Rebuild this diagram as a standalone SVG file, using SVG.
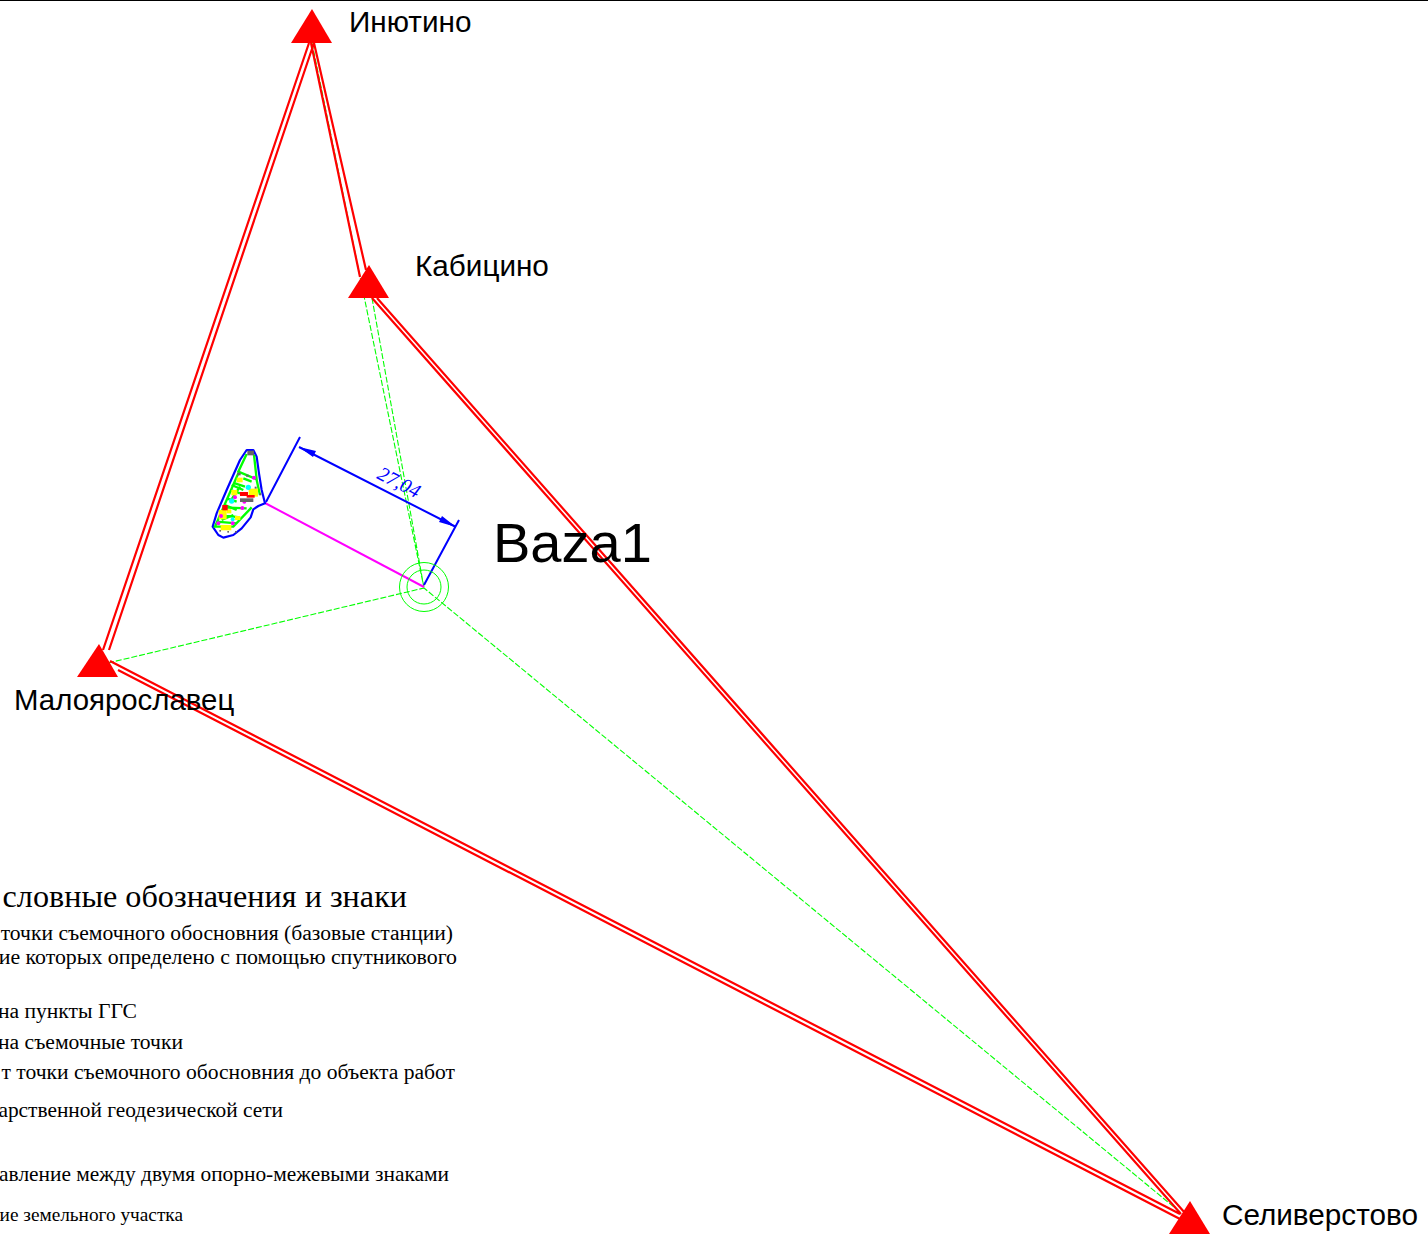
<svg xmlns="http://www.w3.org/2000/svg" width="1428" height="1236" viewBox="0 0 1428 1236">
<style>
.r{stroke:#f00;stroke-width:2.2;fill:none}
.g{stroke:#0f0;stroke-width:1.1;stroke-dasharray:6 2;fill:none}
.b{stroke:#00f;stroke-width:2;fill:none}
.tri{fill:#f00}
.s{font-family:"Liberation Sans",Arial,sans-serif;font-size:29.7px;fill:#000}
.l{font-family:"Liberation Serif","Times New Roman",serif;font-size:21.6px;fill:#000;text-anchor:end}
</style>
<rect width="1428" height="1236" fill="#fff"/>
<line x1="0" y1="0.5" x2="1428" y2="0.5" stroke="#000"/>
<g id="connectors">
<path class="g" d="M312 43L424 588M372 298L424 588M108 663L424 588M1180 1212L424 588"/>
<path class="r" d="M309 43L103 650M314 43L109 650M311 43L360 277M314 43L366 270M110 661L1180 1214M118 670L1180 1219M372 298L1181 1214M377 298L1185 1213"/>
<path stroke="#f0f" stroke-width="2" fill="none" d="M265 503L424 587"/>
<path class="b" d="M266 502L300 437M424 585L459 520M299 447L456 527"/>
<path fill="#00f" d="M299 447L316 451L313 457ZM456 527L439 522L442 516Z"/>
<g fill="none" stroke="#0f0"><circle cx="424" cy="587" r="24.5"/><circle cx="424" cy="587" r="17"/></g>
</g>
<g id="Inyutino"><path class="tri" d="M312 9L332 43H291Z"/><text class="s" x="349" y="32">Инютино</text></g>
<g id="Kabicino"><path class="tri" d="M369 265L389 298H348Z"/><text class="s" x="415" y="276">Кабицино</text></g>
<g id="Maloyaroslavets"><path class="tri" d="M99 644L118 677H77Z"/><text class="s" style="font-size:29.4px" x="14" y="710">Малоярославец</text></g>
<g id="Seliverstovo"><path class="tri" d="M1190 1201L1210 1234H1169Z"/><text class="s" x="1222" y="1225">Селиверстово</text></g>
<g id="Baza1"><text font-family="'Liberation Sans',Arial,sans-serif" font-size="56" x="493" y="562">Baza1</text></g>
<g id="dimension"><text font-family="'Liberation Serif','Times New Roman',serif" font-style="italic" font-size="20" fill="#00f" transform="translate(376 478) rotate(27)">27,04</text></g>
<g id="site" transform="translate(190 430) scale(.3333)">
<path fill="#fff" stroke="#00f" stroke-width="6.5" stroke-linejoin="round" d="M170 60L190 60L200 80L207 130L215 180L225 220L205 228L190 238L182 262L155 295L130 315L100 323L85 315L68 290L80 250L110 180L150 90Z"/>
<g fill="none" stroke="#0f0" stroke-width="7">
<path d="M170 72L145 125L200 148L192 75M145 130L75 290L130 290L185 232M160 145L185 155M150 170L120 215M135 160L165 170M122 180L150 190M110 205L140 215M100 232L170 235M88 255L150 262M80 275L140 280M200 150L210 195"/>
<path d="M125 165L160 180M105 225L140 240M95 270L130 255"/>
</g>
<g fill="#ff0"><rect x="140" y="143" width="18" height="14"/><rect x="124" y="180" width="18" height="16"/><rect x="176" y="176" width="28" height="24"/><rect x="86" y="240" width="24" height="28"/><rect x="92" y="285" width="32" height="16"/><rect x="110" y="238" width="14" height="12"/><rect x="135" y="258" width="16" height="12"/></g>
<g fill="#f00"><rect x="97" y="225" width="16" height="16"/><rect x="150" y="186" width="24" height="12"/><rect x="170" y="195" width="24" height="8"/></g>
<g fill="#f0f"><circle cx="192" cy="143" r="6"/><circle cx="135" cy="202" r="6"/><circle cx="163" cy="215" r="6"/><circle cx="157" cy="234" r="6"/><circle cx="93" cy="258" r="6"/><circle cx="85" cy="280" r="6"/><circle cx="128" cy="280" r="6"/></g>
<g fill="#0ff"><circle cx="175" cy="172" r="8"/><circle cx="125" cy="213" r="8"/><circle cx="128" cy="268" r="6"/></g>
<g fill="#666"><rect x="172" y="62" width="20" height="14"/><rect x="150" y="205" width="40" height="11"/><rect x="142" y="128" width="10" height="8"/><rect x="168" y="134" width="8" height="6"/><rect x="194" y="170" width="6" height="6"/><rect x="208" y="190" width="6" height="6"/><rect x="88" y="300" width="5" height="5"/><rect x="112" y="303" width="5" height="5"/><rect x="135" y="303" width="5" height="5"/></g>
</g>
<g id="legend">
<text class="l" style="font-size:32.2px" x="407" y="907">словные обозначения и знаки</text>
<text class="l" x="453" y="940">точки съемочного обосновния (базовые станции)</text>
<text class="l" style="font-size:21.85px" x="457" y="964">ие которых определено с помощью спутникового</text>
<text class="l" x="137" y="1018">на пункты ГГС</text>
<text class="l" x="183" y="1049">на съемочные точки</text>
<text class="l" x="455" y="1079">т точки съемочного обосновния до объекта работ</text>
<text class="l" style="font-size:21.4px" x="283" y="1117">арственной геодезической сети</text>
<text class="l" style="font-size:21.4px" x="449" y="1181">авление между двумя опорно-межевыми знаками</text>
<text class="l" style="font-size:19.3px" x="183" y="1221">ие земельного участка</text>
</g>
</svg>
